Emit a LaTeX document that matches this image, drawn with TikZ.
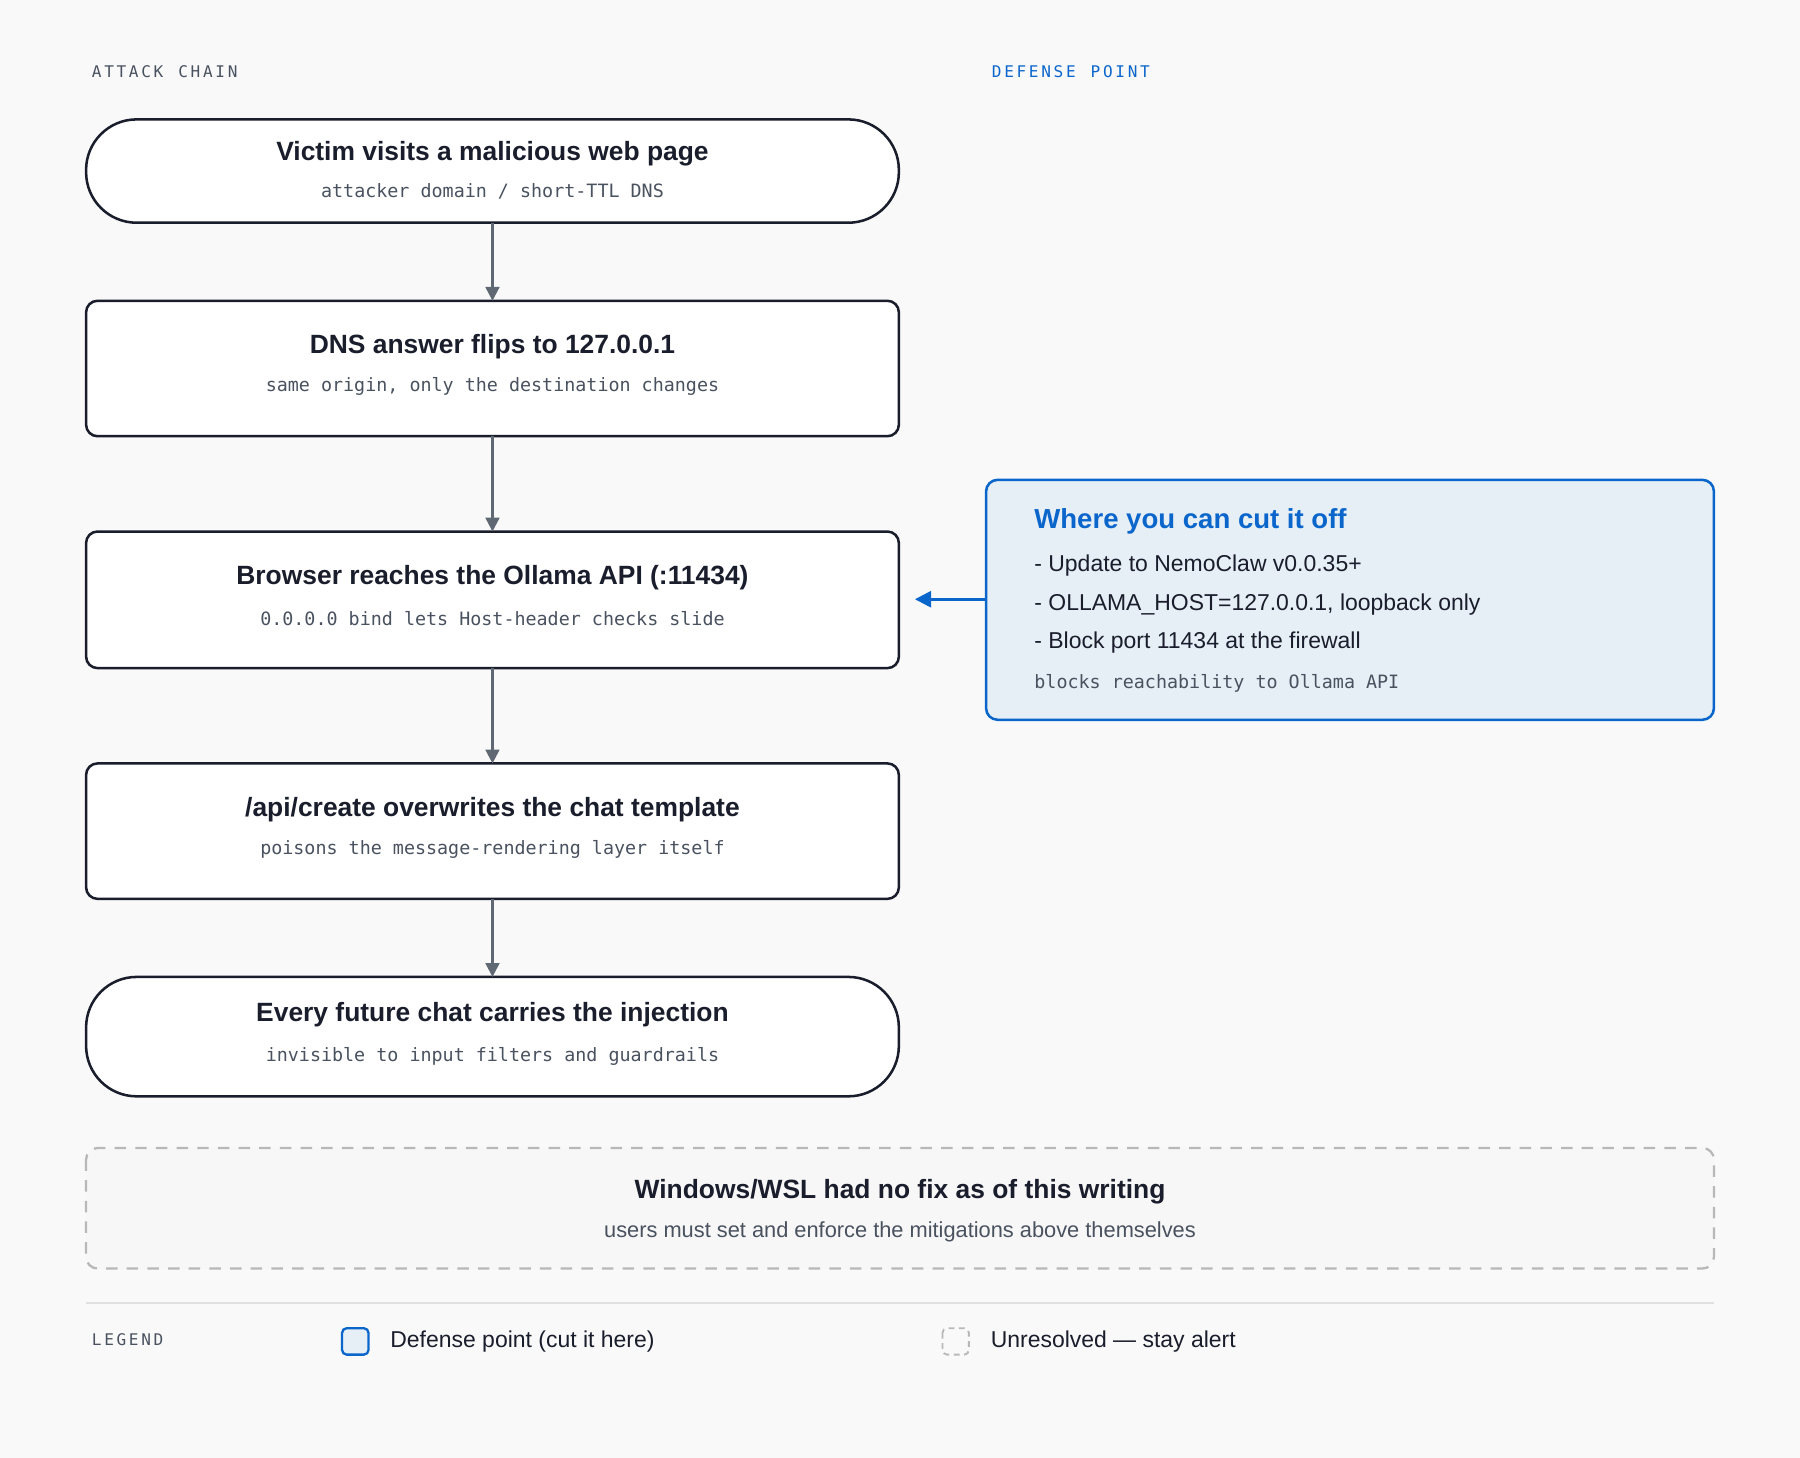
\documentclass[tikz,border=0pt]{standalone}
\usepackage{fontspec}
\setmainfont{Liberation Sans}
\newfontfamily\monof{DejaVu Sans Mono}
\usetikzlibrary{arrows.meta}
\definecolor{ink}{HTML}{1A1D2B}
\definecolor{sub}{HTML}{4A5260}
\definecolor{arr}{HTML}{5F6873}
\definecolor{blu}{HTML}{0B66CC}
\definecolor{bluf}{HTML}{E6EEF6}
\definecolor{bg}{HTML}{F9F9F9}
\definecolor{dg}{HTML}{B8B8B8}
\begin{document}
\begin{tikzpicture}[x=0.5pt,y=-0.5pt,
 box/.style={draw=ink,line width=1.1pt,fill=white,rounded corners=5pt},
 pill/.style={draw=ink,line width=1.1pt,fill=white,rounded corners=22pt},
 ttl/.style={font=\fontsize{11.5}{13}\selectfont\bfseries,text=ink},
 st/.style={font=\monof\fontsize{8}{10}\selectfont,text=sub},
 lab/.style={font=\monof\fontsize{7}{9}\selectfont,anchor=west},
 flow/.style={draw=arr,line width=1pt,-{Triangle[length=6pt,width=6pt]}},
 li/.style={font=\fontsize{10}{12}\selectfont,text=ink,anchor=west}]
\fill[bg] (0,0) rectangle (1568,1270);
\useasboundingbox (0,0) rectangle (1568,1270);
\node[lab,text=sub] (lA) at (73,62) {A\,T\,T\,A\,C\,K\, \,C\,H\,A\,I\,N};
\node[lab,text=blu] (lD) at (857,62) {D\,E\,F\,E\,N\,S\,E\, \,P\,O\,I\,N\,T};
% boxes
\draw[pill] (75,104) rectangle (783,194); \coordinate (b1) at (429,149);
\draw[box] (75,262) rectangle (783,380); \coordinate (b2) at (429,321);
\draw[box] (75,463) rectangle (783,582); \coordinate (b3) at (429,522);
\draw[box] (75,665) rectangle (783,783);
\draw[pill] (75,851) rectangle (783,955);
\node[ttl] (t1) at (429,134) {Victim visits a malicious web page};
\node[st] (s1) at (429,167) {attacker domain / short-TTL DNS};
\node[ttl] (t2) at (429,302) {DNS answer flips to 127.0.0.1};
\node[st] (s2) at (429,337) {same origin, only the destination changes};
\node[ttl] (t3) at (429,503) {Browser reaches the Ollama API (:11434)};
\node[st] (s3) at (429,539) {0.0.0.0 bind lets Host-header checks slide};
\node[ttl] (t4) at (429,705) {/api/create overwrites the chat template};
\node[st] (s4) at (429,740) {poisons the message-rendering layer itself};
\node[ttl] (t5) at (429,884) {Every future chat carries the injection};
\node[st] (s5) at (429,920) {invisible to input filters and guardrails};
\coordinate (e1) at (429,194); \coordinate (f1) at (429,262);
\coordinate (e2) at (429,380); \coordinate (f2) at (429,463);
\coordinate (e3) at (429,582); \coordinate (f3) at (429,665);
\coordinate (e4) at (429,783); \coordinate (f4) at (429,851);
\draw[flow] (e1) -- (f1);
\draw[flow] (e2) -- (f2);
\draw[flow] (e3) -- (f3);
\draw[flow] (e4) -- (f4);
% defense
\draw[draw=blu,fill=bluf,line width=1.1pt,rounded corners=5pt] (859,418) rectangle (1493,627);
\node[font=\fontsize{12}{14}\selectfont\bfseries,text=blu,anchor=west] (dt) at (894,454) {Where you can cut it off};
\node[li] (d1) at (894,493) {- Update to NemoClaw v0.0.35+};
\node[li] (d2) at (894,527) {- OLLAMA\_HOST=127.0.0.1, loopback only};
\node[li] (d3) at (894,560) {- Block port 11434 at the firewall};
\node[st,anchor=west] (d4) at (894,595) {blocks reachability to Ollama API};
\coordinate (dl) at (859,522); \coordinate (dr) at (797,522);
\draw[draw=blu,line width=1.1pt,-{Triangle[length=7pt,width=7pt]}] (dl) -- (dr);
% windows
\draw[draw=dg,fill=white!50!bg!96!gray,line width=1pt,dash pattern=on 5pt off 4pt,rounded corners=5pt] (75,1000) rectangle (1493,1105);
\node[ttl] (w1) at (784,1038) {Windows/WSL had no fix as of this writing};
\node[font=\fontsize{9.5}{11}\selectfont,text=sub] (w2) at (784,1073) {users must set and enforce the mitigations above themselves};
\draw[draw=black!12,line width=0.6pt] (75,1135) -- (1493,1135);
% legend
\node[lab,text=sub] (lg) at (73,1167) {L\,E\,G\,E\,N\,D};
\draw[draw=blu,fill=bluf,line width=1pt,rounded corners=2pt] (298,1157) rectangle (321,1180);
\node[li] (lg1) at (333,1169) {Defense point (cut it here)};
\draw[draw=dg,line width=0.8pt,dash pattern=on 2.5pt off 2pt,rounded corners=2pt] (821,1157) rectangle (844,1180);
\node[li] (lg2) at (856,1169) {Unresolved — stay alert};
\end{tikzpicture}
\end{document}
